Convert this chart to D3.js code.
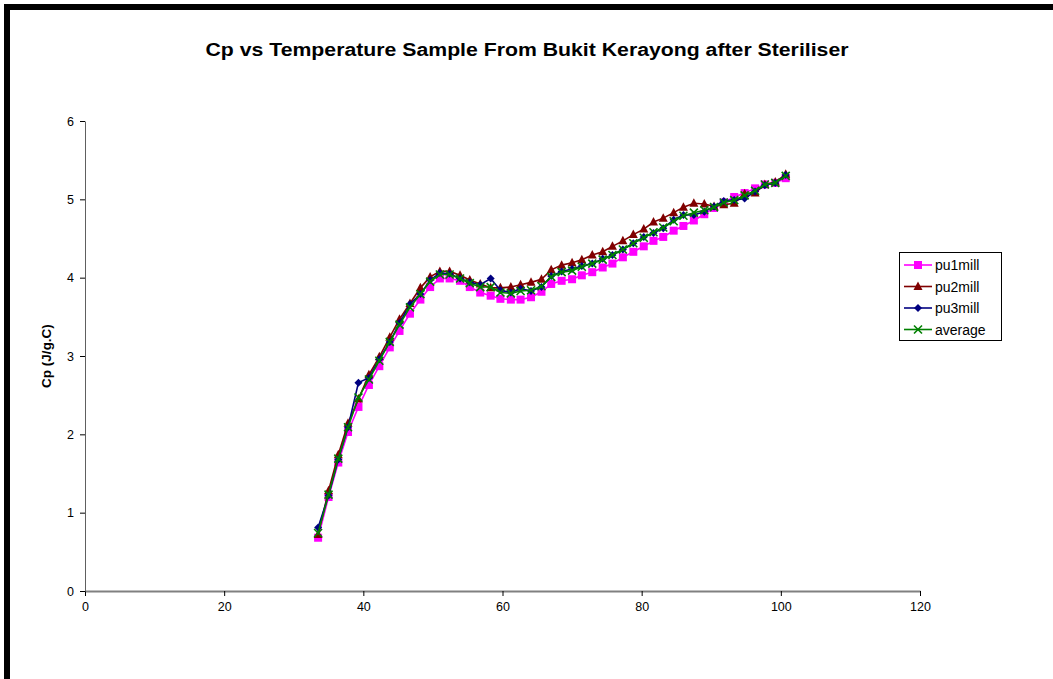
<!DOCTYPE html>
<html>
<head>
<meta charset="utf-8">
<script src="https://cdn.jsdelivr.net/npm/d3@7"></script>
<style>
  html, body { margin: 0; padding: 0; background: #fff; }
  svg { display: block; font-family: "Liberation Sans", Arial, sans-serif; }
</style>
</head>
<body>
<svg id="chart" width="1053" height="679"></svg>
<script>
// Sample temperatures (°C)
const temperature = [33.5, 35.0, 36.4, 37.8, 39.3, 40.8, 42.3, 43.8, 45.2, 46.7,
  48.2, 49.6, 51.0, 52.4, 53.9, 55.3, 56.8, 58.3, 59.7, 61.2,
  62.6, 64.1, 65.6, 67.0, 68.5, 70.0, 71.4, 72.9, 74.4, 75.8,
  77.3, 78.8, 80.3, 81.7, 83.1, 84.6, 86.0, 87.5, 89.0, 90.4,
  91.8, 93.3, 94.8, 96.3, 97.7, 99.2, 100.7];

// Specific heat capacity Cp (J/g.C) per sample
const pu1mill = [0.68, 1.20, 1.64, 2.03, 2.35, 2.63, 2.87, 3.11, 3.32, 3.54,
  3.72, 3.88, 3.99, 3.99, 3.96, 3.88, 3.81, 3.77, 3.73, 3.72,
  3.72, 3.75, 3.82, 3.92, 3.96, 3.98, 4.03, 4.07, 4.13, 4.18,
  4.26, 4.33, 4.40, 4.47, 4.52, 4.60, 4.66, 4.73, 4.81, 4.89,
  4.96, 5.03, 5.08, 5.14, 5.19, 5.21, 5.27];
const pu2mill = [0.72, 1.28, 1.74, 2.14, 2.45, 2.76, 2.99, 3.24, 3.47, 3.67,
  3.87, 4.01, 4.08, 4.08, 4.03, 3.97, 3.92, 3.87, 3.87, 3.88,
  3.91, 3.94, 3.98, 4.10, 4.16, 4.19, 4.23, 4.29, 4.33, 4.40,
  4.47, 4.55, 4.62, 4.71, 4.76, 4.83, 4.90, 4.95, 4.94, 4.91,
  4.93, 4.95, 5.07, 5.08, 5.19, 5.22, 5.32];
const pu3mill = [0.81, 1.22, 1.68, 2.09, 2.66, 2.72, 2.96, 3.18, 3.42, 3.66,
  3.79, 3.97, 4.06, 4.05, 3.99, 3.94, 3.91, 3.99, 3.84, 3.81,
  3.86, 3.83, 3.88, 4.02, 4.08, 4.11, 4.15, 4.18, 4.24, 4.29,
  4.36, 4.44, 4.52, 4.57, 4.63, 4.74, 4.80, 4.80, 4.84, 4.91,
  4.98, 4.99, 5.01, 5.10, 5.18, 5.21, 5.31];
const average = [0.74, 1.23, 1.69, 2.09, 2.47, 2.70, 2.94, 3.18, 3.40, 3.62,
  3.79, 3.95, 4.04, 4.04, 3.99, 3.93, 3.88, 3.88, 3.81, 3.80,
  3.83, 3.84, 3.89, 4.01, 4.07, 4.09, 4.14, 4.18, 4.23, 4.29,
  4.36, 4.44, 4.51, 4.58, 4.64, 4.72, 4.79, 4.83, 4.86, 4.90,
  4.96, 4.99, 5.05, 5.11, 5.19, 5.21, 5.30];

const xTicks = [0, 20, 40, 60, 80, 100, 120];
const yTicks = [0, 1, 2, 3, 4, 5, 6];

const seriesNames = ["pu1mill", "pu2mill", "pu3mill", "average"];
const seriesValues = [pu1mill, pu2mill, pu3mill, average];
const seriesColors = ["#FF00FF", "#800000", "#000080", "#008000"];
const seriesMarkers = ["square", "triangle", "diamond", "cross"];

const titleText = "Cp vs Temperature Sample From Bukit Kerayong after Steriliser";
const yLabelText = "Cp (J/g.C)";

const svg = d3.select("#chart");

// Chart-area frame (heavy top and left edges)
svg.append("rect").attr("x", 4).attr("y", 4).attr("width", 1049).attr("height", 6).attr("fill", "#000");
svg.append("rect").attr("x", 4).attr("y", 4).attr("width", 6).attr("height", 675).attr("fill", "#000");

const x = d3.scaleLinear().domain([0, 120]).range([85, 920]);
const y = d3.scaleLinear().domain([0, 6]).range([591, 121]);

// Title
svg.append("text")
  .attr("x", 527).attr("y", 56)
  .attr("text-anchor", "middle")
  .attr("font-weight", "bold")
  .attr("font-size", 18)
  .attr("textLength", 643)
  .attr("lengthAdjust", "spacingAndGlyphs")
  .text(titleText);

// Axes
const xAxis = svg.append("g")
  .attr("transform", `translate(0,${y(0)})`)
  .call(d3.axisBottom(x).tickValues(xTicks).tickFormat(d3.format("d")).tickSize(5).tickSizeOuter(0).tickPadding(6));
const yAxis = svg.append("g")
  .attr("transform", `translate(${x(0)},0)`)
  .call(d3.axisLeft(y).tickValues(yTicks).tickFormat(d3.format("d")).tickSize(5).tickSizeOuter(0).tickPadding(6));

[xAxis, yAxis].forEach(g => {
  g.selectAll("text").attr("font-size", 12.5).attr("font-family", "Liberation Sans, Arial, sans-serif").attr("fill", "#000");
  g.selectAll(".tick line").attr("stroke", "#000");
});
xAxis.select(".domain").attr("stroke", "#808080").attr("stroke-width", 2);
yAxis.select(".domain").attr("stroke", "#606060").attr("stroke-width", 1);

// Y axis title
svg.append("text")
  .attr("transform", `translate(51,${(y(0) + y(6)) / 2}) rotate(-90)`)
  .attr("text-anchor", "middle")
  .attr("font-weight", "bold")
  .attr("font-size", 13.5)
  .text(yLabelText);

// Marker shapes
function drawMarker(sel, kind, color) {
  if (kind === "square") {
    sel.append("rect").attr("x", -4).attr("y", -4).attr("width", 8).attr("height", 8).attr("fill", color);
  } else if (kind === "triangle") {
    sel.append("path").attr("d", "M0,-5L4.5,3.5L-4.5,3.5Z").attr("fill", color);
  } else if (kind === "diamond") {
    sel.append("path").attr("d", "M0,-4L4,0L0,4L-4,0Z").attr("fill", color);
  } else {
    sel.append("path").attr("d", "M-4,-4L4,4M-4,4L4,-4").attr("stroke", color).attr("stroke-width", 1.6).attr("fill", "none");
  }
}

const line = d3.line().x(d => x(d[0])).y(d => y(d[1]));

seriesValues.forEach((vals, i) => {
  const pts = temperature.map((t, k) => [t, vals[k]]);
  const g = svg.append("g");
  g.append("path")
    .attr("d", line(pts))
    .attr("fill", "none")
    .attr("stroke", seriesColors[i])
    .attr("stroke-width", 1.6);
  g.selectAll("g.m").data(pts).enter().append("g")
    .attr("class", "m")
    .attr("transform", d => `translate(${x(d[0])},${y(d[1])})`)
    .each(function () { drawMarker(d3.select(this), seriesMarkers[i], seriesColors[i]); });
});

// Legend
const legend = svg.append("g");
legend.append("rect")
  .attr("x", 899.5).attr("y", 252.5).attr("width", 102).attr("height", 88)
  .attr("fill", "#fff").attr("stroke", "#000").attr("stroke-width", 1);
seriesNames.forEach((name, i) => {
  const ly = 265 + i * 21.5;
  const item = legend.append("g");
  item.append("line").attr("x1", 904).attr("x2", 932).attr("y1", ly).attr("y2", ly)
    .attr("stroke", seriesColors[i]).attr("stroke-width", 1.6);
  const m = item.append("g").attr("transform", `translate(918,${ly})`);
  drawMarker(m, seriesMarkers[i], seriesColors[i]);
  item.append("text").attr("x", 935).attr("y", ly + 5)
    .attr("font-size", 14).text(name);
});
</script>
</body>
</html>
